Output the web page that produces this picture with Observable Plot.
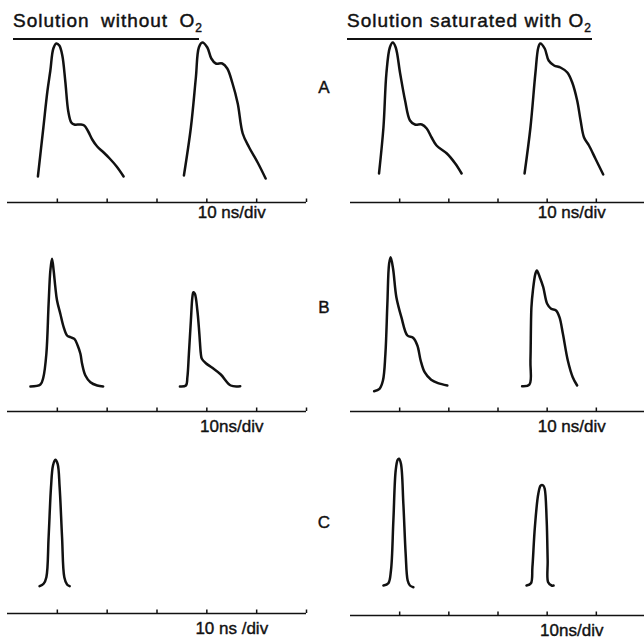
<!DOCTYPE html>
<html>
<head>
<meta charset="utf-8">
<script src="https://cdn.jsdelivr.net/npm/d3@7"></script>
<script src="https://cdn.jsdelivr.net/npm/@observablehq/plot@0.6"></script>
<style>
  html, body { margin: 0; padding: 0; background: #fff; overflow: hidden; }
  #fig { position: relative; width: 644px; height: 642px; overflow: hidden;
         font-family: "Liberation Sans", Arial, sans-serif; color: #111; }
  .title { position: absolute; top: 10px; font-size: 19px; line-height: 22px;
           letter-spacing: 1px; white-space: nowrap; -webkit-text-stroke: 0.45px #111;
           border-bottom: 2px solid #111; padding-bottom: 4px; }
  .title .sub { font-size: 12px; position: relative; top: 5px; letter-spacing: 0; }
  .rowlab { position: absolute; width: 16px; text-align: center; font-size: 17px; line-height: 18px;
            -webkit-text-stroke: 0.4px #111; }
  #fig svg { position: absolute; overflow: visible; background: transparent; }
</style>
</head>
<body>
<div id="fig"></div>
<script>
// ---------- data ----------
const rowNames = ["A", "B", "C"];
const conditionNames = ["Solution without O", "Solution saturated with O"]; // followed by subscript 2
const conditionSub = "2";
const divTicks = [0, 10, 20, 30, 40, 50];         // ns, one division = 10 ns
const timeSpan = [-10, 50];                        // ns shown on each time base
const scaleLabels = ["10 ns/div", "10 ns/div", "10ns/div", "10 ns/div", "10 ns /div", "10ns/div"];
const scaleLabelAt = 35;                           // ns

// pulses: [time (ns), intensity (a.u.)]
const A_without_1 = [[-3.9,0],[-2.8,49],[-2.0,85],[-1.4,106],[-0.8,128],[-0.2,133],[0.4,131],[1.0,121],[1.6,95],[2.2,65],[2.8,54],[3.4,52],[4.6,52],[5.4,51],[6.2,45],[7.0,37],[8.0,30],[9.3,24],[10.5,18],[11.9,10],[13.3,0]];
const A_without_2 = [[25.4,1],[26.8,49],[27.8,99],[28.4,129],[29.1,134],[30.1,129],[30.9,118],[31.8,113],[33.1,113],[34.1,108],[35.1,94],[36.2,73],[37.2,43],[38.5,29],[40.2,14],[41.8,-2]];
const A_with_1 = [[-4.2,2],[-3.3,48],[-2.7,102],[-2.0,128],[-1.4,133],[-0.8,128],[0.1,102],[1.1,75],[2.1,55],[3.1,51],[4.5,51],[5.5,47],[6.5,38],[7.5,30],[9.6,22],[11.3,12],[12.6,2]];
const A_with_2 = [[25.4,2],[26.6,48],[27.6,102],[28.2,128],[28.6,132],[29.5,127],[30.3,115],[31.4,110],[32.7,108],[34.1,103],[35.1,93],[36.1,75],[36.8,55],[37.5,38],[38.5,30],[39.8,17],[41.4,1]];
const B_without_1 = [[-5.4,0],[-3.4,2],[-2.8,9.3],[-2.2,32.7],[-1.75,82.7],[-1.4,116],[-1.07,127.7],[-0.74,116],[-0.4,99.3],[-0.06,86],[0.6,72.7],[1.27,59.3],[1.95,51],[2.62,49.3],[3.42,47.7],[4.08,41],[4.63,32.7],[4.97,22.7],[5.63,11],[6.64,4.3],[8.0,1],[9.2,0]];
const B_without_2 = [[24.6,0],[25.8,1],[26.1,9.3],[26.4,32.7],[26.8,66],[27.1,89.3],[27.3,94.3],[27.6,92.7],[28.1,76],[28.5,52.7],[28.8,32.7],[29.0,27.7],[29.8,23.3],[31.1,18.7],[32.8,12],[34.8,1],[36.7,0.3]];
const B_with_1 = [[-5.2,-2.7],[-4.1,-0.3],[-3.4,8],[-2.9,34.7],[-2.5,84.7],[-2.15,124.7],[-1.83,131.3],[-1.34,119.7],[-0.67,91.3],[0.35,71.3],[1.57,53],[2.72,50.7],[3.6,43],[4.27,28],[5.08,16.3],[6.4,8.7],[7.8,5.3],[9.7,3]];
const B_with_2 = [[24.9,2.3],[26.4,4],[26.6,28],[26.8,81.3],[27.1,98],[27.6,114.7],[27.9,118],[28.5,111.3],[29.2,101.3],[30.0,84.7],[30.8,79.7],[31.8,78],[32.5,71.3],[33.2,54.7],[34.2,28],[35.2,11.3],[36.1,3]];
const C_without_1 = [[-3.56,0.3],[-2.76,2.7],[-2.2,9.3],[-1.75,49.3],[-1.27,99.3],[-0.87,121],[-0.4,126.7],[0.06,122.7],[0.46,99.3],[0.95,49.3],[1.4,9.3],[1.95,2],[2.47,0.3]];
const C_with_1 = [[-3.3,1],[-2.3,3.3],[-1.77,16],[-1.28,66],[-0.81,116],[-0.41,126.7],[-0.14,127.7],[0.26,122.7],[0.75,82.7],[1.22,32.7],[1.63,6],[2.09,1],[2.79,-0.7]];
const C_with_2 = [[25.8,1],[26.7,3.3],[27.0,19.3],[27.5,59.3],[28.2,92.7],[28.7,101],[29.2,101],[29.5,97.7],[29.9,66],[30.1,26],[30.2,4.3],[30.9,1],[31.3,1]];

// ---------- layout (page pixels) ----------
const ink = "#111";
const fig = document.getElementById("fig");
const FH = 175; // frame height above the time axis
const colGeom = [
  {left: 0,   width: 322, mL: 7,  mR: 16},
  {left: 322, width: 323, mL: 28, mR: 0}
];
// per row: axis y, pulse-baseline y for [left, right], label offset
const rowGeom = {
  A: {axis: [202, 202], base: [176, 175], dy: 15, labY: 88},
  B: {axis: [411, 411], base: [386, 388], dy: 20, labY: 308},
  C: {axis: [613, 615], base: [586, 586], dy: 20, labY: 523}
};
const panels = [
  {row: "A", col: 0, pulses: [A_without_1, A_without_2]},
  {row: "A", col: 1, pulses: [A_with_1, A_with_2]},
  {row: "B", col: 0, pulses: [B_without_1, B_without_2]},
  {row: "B", col: 1, pulses: [B_with_1, B_with_2]},
  {row: "C", col: 0, pulses: [C_without_1]},
  {row: "C", col: 1, pulses: [C_with_1, C_with_2]}
];

panels.forEach((p, i) => {
  const g = rowGeom[p.row], c = colGeom[p.col];
  const axisY = g.axis[p.col], gap = axisY - g.base[p.col];
  const data = p.pulses.flatMap((arr, k) => arr.map(([t, v]) => ({t, v, k})));
  const svg = Plot.plot({
    width: c.width, height: FH + 32,
    marginTop: 0, marginBottom: 32, marginLeft: c.mL, marginRight: c.mR,
    x: {domain: timeSpan, axis: null},
    y: {domain: [-gap, FH - gap], axis: null},
    style: {fontFamily: '"Liberation Sans", Arial, sans-serif', color: ink, background: "transparent"},
    marks: [
      Plot.ruleY([-gap], {stroke: ink, strokeWidth: 1.7}),
      Plot.ruleX(divTicks, {insetTop: FH - 3.5, stroke: ink, strokeWidth: 1.5}),
      Plot.line(data, {x: "t", y: "v", z: "k", curve: "catmull-rom", stroke: ink,
                       strokeWidth: 2.5, strokeLinejoin: "round", strokeLinecap: "round"}),
      Plot.text([scaleLabels[i]], {x: () => scaleLabelAt, frameAnchor: "bottom", dy: g.dy,
                       fontSize: 17, fill: ink, stroke: ink, strokeWidth: 0.4})
    ]
  });
  svg.style.left = c.left + "px";
  svg.style.top = (axisY - FH) + "px";
  fig.appendChild(svg);
});

// titles
const titleGeom = [{left: 13, width: 186, ws: 5}, {left: 347, width: 245, ws: 0}];
conditionNames.forEach((name, j) => {
  const d = document.createElement("div");
  d.className = "title";
  d.style.left = titleGeom[j].left + "px";
  d.style.width = titleGeom[j].width + "px";
  d.style.wordSpacing = titleGeom[j].ws + "px";
  d.appendChild(document.createTextNode(name));
  const s = document.createElement("span");
  s.className = "sub";
  s.textContent = conditionSub;
  d.appendChild(s);
  fig.appendChild(d);
});

// row letters
rowNames.forEach(r => {
  const d = document.createElement("div");
  d.className = "rowlab";
  d.style.left = "316px";
  d.style.top = (rowGeom[r].labY - 9) + "px";
  d.textContent = r;
  fig.appendChild(d);
});
</script>
</body>
</html>
